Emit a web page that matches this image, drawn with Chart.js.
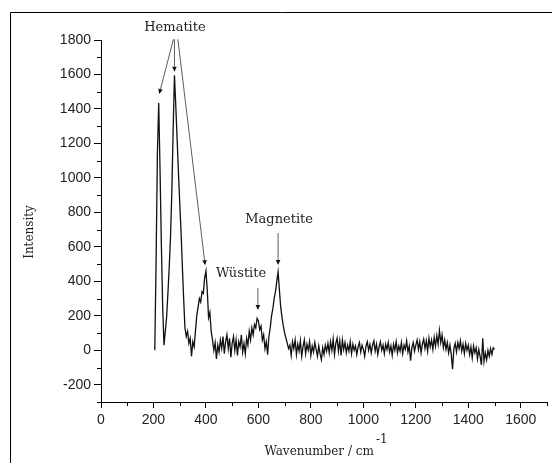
<!DOCTYPE html>
<html>
<head>
<meta charset="utf-8">
<script src="https://cdn.jsdelivr.net/npm/chart.js@4.4.1/dist/chart.umd.min.js"></script>
<style>
  html, body { margin: 0; padding: 0; background: #ffffff; }
  #wrap { position: relative; width: 552px; height: 463px; overflow: hidden; }
  canvas { display: block; }
</style>
</head>
<body>
<div id="wrap"><canvas id="c" width="552" height="463"></canvas></div>
<script>
// ---- Data ----
const startWavenumber = 205;   // cm^-1, first sample
const stepWavenumber = 5;      // cm^-1 between samples

// 205 .. 445 cm^-1 : hematite bands
const hematiteRegion = [
  0, 520, 1150, 1435, 1050, 620, 260, 30, 110, 190,
  330, 480, 660, 920, 1280, 1595, 1420, 1230, 1040, 860,
  690, 490, 300, 130, 80, 110, 40, 70, -35, 50,
  20, 110, 200, 250, 300, 280, 340, 330, 420, 460,
  350, 190, 220, 110, 60, 0, 45, -50, 30
];
// 450 .. 720 cm^-1 : wüstite and magnetite bands
const oxideRegion = [
  -10, 60, 10, 80, -20, 50, 90, 10, 70, -40,
  40, 80, 0, 60, -30, 50, 20, 90, -10, 40,
  -20, 70, 30, 110, 60, 130, 90, 150, 130, 185,
  170, 120, 140, 60, 90, 10, 50, -25, 80, 130,
  200, 240, 300, 340, 400, 455, 350, 250, 190, 140,
  100, 70, 40, 10, 30
];
// 725 .. 1500 cm^-1 : noisy baseline
const baselineRegion = [
  -30, 50, 10, 60, -25, 35, -5, 55, -35, 20,
  60, -20, 35, 0, 50, -30, 25, -10, 45, 5,
  -35, 25, -20, -55, 15, -25, 30, -5, 40, -15,
  50, 0, 65, -25, 40, 70, -5, 55, -30, 60,
  5, 45, -15, 30, -5, 50, -20, 35, 0, 25,
  -25, 20, 45, -10, 30, 5, -35, 25, 50, 0,
  35, -15, 30, 55, -5, 35, -25, 20, 50, 0,
  30, -20, 35, 5, 45, -10, 25, -30, 35, 0,
  50, -15, 25, -5, 45, -20, 30, 5, 55, -10,
  25, -60, 15, 45, -5, 30, 60, 5, 50, -15,
  35, 65, 10, 55, -5, 70, 20, 60, 5, 75,
  25, 85, 35, 115, 45, 90, 15, 60, 5, 45,
  -15, 30, -25, -110, 10, 40, -10, 45, 10, 55,
  -5, 35, -20, 40, 0, 30, -25, 20, -45, 25,
  -15, 15, -50, 5, -35, -85, 70, -65, -15, -55,
  0, -35, 10, -25, 15, 5
];

const xTickValues = [0, 200, 400, 600, 800, 1000, 1200, 1400, 1600];
const yTickValues = [-200, 0, 200, 400, 600, 800, 1000, 1200, 1400, 1600, 1800];
const xMinorTicks = [100, 300, 500, 700, 900, 1100, 1300, 1500, 1700];
const yMinorTicks = [-300, -100, 100, 300, 500, 700, 900, 1100, 1300, 1500, 1700];

const xAxisTitle = "Wavenumber / cm";
const xAxisTitleSup = "-1";
const yAxisTitle = "Intensity";

// annotations: label position and arrow (from -> tip), in data units
const hematiteLabel = { text: "Hematite", x: 282, y: 1870 };
const hematiteArrows = [
  { x0: 276, y0: 1804, x1: 222, y1: 1487 },
  { x0: 280, y0: 1804, x1: 280, y1: 1616 },
  { x0: 293, y0: 1804, x1: 397, y1: 493 }
];
const wustiteLabel = { text: "Wüstite", x: 534, y: 444 };
const wustiteArrow = { x0: 598, y0: 360, x1: 598, y1: 234 };
const magnetiteLabel = { text: "Magnetite", x: 679, y: 756 };
const magnetiteArrow = { x0: 675, y0: 680, x1: 675, y1: 495 };

// ---- Build the dataset ----
const intensity = hematiteRegion.concat(oxideRegion, baselineRegion);
const points = intensity.map((v, i) => ({ x: startWavenumber + i * stepWavenumber, y: v }));

const SERIF = '"DejaVu Serif", "Liberation Serif", serif';
const SANS = '"Liberation Sans", Arial, sans-serif';

function drawArrow(ctx, xs, ys, a) {
  const x0 = xs.getPixelForValue(a.x0), y0 = ys.getPixelForValue(a.y0);
  const x1 = xs.getPixelForValue(a.x1), y1 = ys.getPixelForValue(a.y1);
  const ang = Math.atan2(y1 - y0, x1 - x0);
  const L = 5, W = 2.3;
  const bx = x1 - L * Math.cos(ang), by = y1 - L * Math.sin(ang);
  ctx.beginPath();
  ctx.moveTo(x0, y0);
  ctx.lineTo(bx, by);
  ctx.stroke();
  ctx.beginPath();
  ctx.moveTo(x1, y1);
  ctx.lineTo(bx + W * Math.sin(ang), by - W * Math.cos(ang));
  ctx.lineTo(bx - W * Math.sin(ang), by + W * Math.cos(ang));
  ctx.closePath();
  ctx.fill();
}

const decor = {
  id: 'decor',
  afterDraw(chart) {
    const ctx = chart.ctx;
    const xs = chart.scales.x, ys = chart.scales.y;
    const area = chart.chartArea;
    ctx.save();
    // outer frame (left and top edges)
    ctx.strokeStyle = '#000';
    ctx.lineWidth = 1;
    ctx.beginPath();
    ctx.moveTo(10.5, 463);
    ctx.lineTo(10.5, 12.5);
    ctx.lineTo(552, 12.5);
    ctx.stroke();

    // minor ticks
    ctx.beginPath();
    xMinorTicks.forEach(v => {
      const px = Math.round(xs.getPixelForValue(v)) + 0.5;
      ctx.moveTo(px, area.bottom);
      ctx.lineTo(px, area.bottom + 4);
    });
    yMinorTicks.forEach(v => {
      const py = Math.round(ys.getPixelForValue(v)) + 0.5;
      ctx.moveTo(area.left, py);
      ctx.lineTo(area.left - 4, py);
    });
    ctx.stroke();

    // axis titles
    ctx.fillStyle = '#222';
    ctx.font = '12px ' + SERIF;
    ctx.textAlign = 'center';
    ctx.textBaseline = 'middle';
    ctx.save();
    ctx.translate(30, (area.top + area.bottom) / 2 + 11);
    ctx.rotate(-Math.PI / 2);
    ctx.fillText(yAxisTitle, 0, 0);
    ctx.restore();

    ctx.textAlign = 'left';
    ctx.textBaseline = 'alphabetic';
    const mainW = ctx.measureText(xAxisTitle).width;
    const supW = ctx.measureText(xAxisTitleSup).width;
    const cx = 326;
    const startX = cx - (mainW + supW + 2) / 2;
    ctx.fillText(xAxisTitle, startX, 455);
    ctx.fillText(xAxisTitleSup, startX + mainW + 2, 443);

    // annotations
    ctx.font = '13px ' + SERIF;
    ctx.textAlign = 'center';
    ctx.textBaseline = 'middle';
    [hematiteLabel, wustiteLabel, magnetiteLabel].forEach(l => {
      ctx.fillText(l.text, xs.getPixelForValue(l.x), ys.getPixelForValue(l.y));
    });
    ctx.strokeStyle = '#333';
    ctx.fillStyle = '#111';
    ctx.lineWidth = 0.8;
    hematiteArrows.forEach(a => drawArrow(ctx, xs, ys, a));
    drawArrow(ctx, xs, ys, wustiteArrow);
    drawArrow(ctx, xs, ys, magnetiteArrow);
    ctx.restore();
  }
};

new Chart(document.getElementById('c'), {
  type: 'line',
  data: {
    datasets: [{
      data: points,
      borderColor: '#111',
      borderWidth: 1.3,
      pointRadius: 0,
      tension: 0,
      fill: false
    }]
  },
  options: {
    responsive: false,
    animation: false,
    events: [],
    layout: { padding: { left: 0, top: 40, right: 5, bottom: 0 } },
    plugins: { legend: { display: false }, tooltip: { enabled: false } },
    scales: {
      x: {
        type: 'linear',
        min: 0,
        max: 1700,
        afterFit: s => { s.height = 61; },
        afterBuildTicks: s => { s.ticks = xTickValues.map(v => ({ value: v })); },
        border: { display: true, color: '#000', width: 1 },
        grid: { drawOnChartArea: false, drawTicks: true, tickLength: 6, color: '#000' },
        ticks: { color: '#222', font: { family: SANS, size: 14 }, padding: 4, maxRotation: 0, autoSkip: false,
                 callback: v => String(v) }
      },
      y: {
        type: 'linear',
        min: -300,
        max: 1800,
        afterFit: s => { s.width = 101; },
        afterBuildTicks: s => { s.ticks = yTickValues.map(v => ({ value: v })); },
        border: { display: true, color: '#000', width: 1 },
        grid: { drawOnChartArea: false, drawTicks: true, tickLength: 7, color: '#000' },
        ticks: { color: '#222', font: { family: SANS, size: 14 }, padding: 3, autoSkip: false,
                 callback: v => String(v) }
      }
    }
  },
  plugins: [decor]
});
</script>
</body>
</html>
